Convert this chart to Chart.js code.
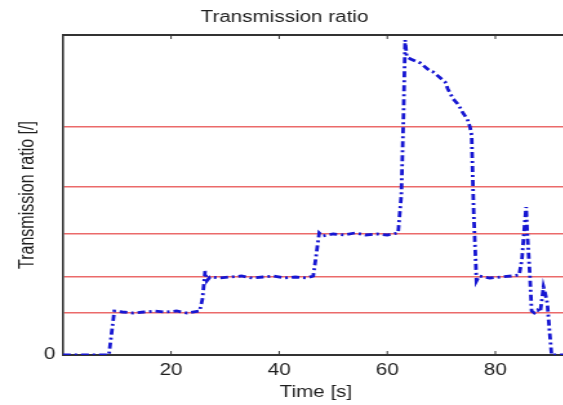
<!DOCTYPE html>
<html>
<head>
<meta charset="utf-8">
<script src="https://cdn.jsdelivr.net/npm/chart.js@4"></script>
<style>
  html, body { margin: 0; padding: 0; background: #fff; overflow: hidden; width: 563px; height: 405px; }
  /* the source figure is stretched horizontally, so the canvas is too */
  #chart { display: block; transform: scaleX(1.29); transform-origin: 0 0; }
</style>
</head>
<body>
<canvas id="chart" width="490" height="405"></canvas>
<script>
// time [s]
const times = [0, 8.5, 9.0, 9.5, 11, 13, 15, 17, 19, 21, 23, 25.3, 25.8, 26.3, 26.6, 27.2,
  29, 31, 33, 35, 37, 39, 41, 43, 45, 46.3, 46.8, 47.4, 48, 50, 52, 54, 56, 58, 60, 62,
  62.6, 63.0, 63.3, 63.6, 64.3, 66.1, 67.9, 68.5, 70.7, 71.2, 72.2, 73.2, 74, 74.8, 75.3,
  75.6, 76.0, 76.5, 77, 79, 81, 83, 84.4, 84.9, 85.4, 85.7, 85.9, 86.4, 86.7, 87.2, 87.8,
  88.3, 88.9, 89.2, 89.6, 90.0, 90.4, 91, 93.6];
// transmission ratio
const ratio = [0, 0, 0.22, 0.44, 0.43, 0.42, 0.43, 0.44, 0.43, 0.44, 0.42, 0.44, 0.56, 0.84, 0.74, 0.78,
  0.77, 0.78, 0.79, 0.77, 0.78, 0.79, 0.77, 0.78, 0.77, 0.79, 0.98, 1.22, 1.19, 1.21, 1.20, 1.22, 1.20, 1.21, 1.20, 1.22,
  1.6, 2.4, 3.15, 2.98, 2.96, 2.92, 2.84, 2.83, 2.73, 2.66, 2.56, 2.5, 2.42, 2.36, 2.28,
  2.2, 1.4, 0.74, 0.79, 0.77, 0.78, 0.79, 0.80, 0.95, 1.3, 1.48, 1.22, 0.78, 0.44, 0.42, 0.45,
  0.43, 0.68, 0.62, 0.52, 0.25, 0, 0, 0];
// red reference lines (gear ratios)
const gearLevels = [0.42, 0.78, 1.21, 1.68, 2.28];
const xTicks = [20, 40, 60, 80];

Chart.defaults.font.family = "'Liberation Sans', Arial, sans-serif";
Chart.defaults.font.size = 16;
Chart.defaults.color = '#1e1e1e';

// inward tick marks at top and bottom, plus the top frame line
const frame = {
  id: 'frame',
  afterDraw(chart) {
    const { ctx, chartArea: a, scales: { x } } = chart;
    ctx.save();
    ctx.strokeStyle = '#333';
    ctx.lineWidth = 2;
    ctx.beginPath();
    ctx.moveTo(a.left, a.top);
    ctx.lineTo(a.right, a.top);
    ctx.stroke();
    ctx.lineWidth = 1;
    xTicks.forEach(t => {
      const px = x.getPixelForValue(t);
      ctx.beginPath();
      ctx.moveTo(px, a.bottom);
      ctx.lineTo(px, a.bottom - 4);
      ctx.moveTo(px, a.top);
      ctx.lineTo(px, a.top + 4);
      ctx.stroke();
    });
    ctx.restore();
  }
};

new Chart(document.getElementById('chart'), {
  type: 'line',
  data: {
    datasets: [{
      data: times.map((t, i) => ({ x: t, y: ratio[i] })),
      borderColor: '#1616d2',
      borderWidth: 2.8,
      borderDash: [6, 3, 2, 3],
      pointRadius: 0,
      tension: 0,
      fill: false
    }]
  },
  options: {
    responsive: false,
    animation: false,
    layout: { padding: { left: 0, right: 49, top: 0, bottom: 0 } },
    plugins: {
      legend: { display: false },
      tooltip: { enabled: false },
      title: {
        display: true,
        text: 'Transmission ratio',
        font: { size: 16, weight: 'normal' },
        color: '#1e1e1e',
        padding: { top: 8, bottom: 7.8 }
      }
    },
    scales: {
      x: {
        type: 'linear',
        min: 0,
        max: 93.6,
        grid: { display: false, drawTicks: false },
        border: { display: true, color: '#333', width: 2 },
        ticks: {
          stepSize: 20,
          includeBounds: false,
          maxRotation: 0,
          autoSkip: false,
          padding: 6,
          callback: v => (v === 0 ? '' : v)
        },
        title: { display: true, text: 'Time [s]', padding: { top: 0, bottom: 2.4 } },
        afterFit: s => { s.height = 50; }
      },
      y: {
        min: 0,
        max: 3.2,
        afterBuildTicks: s => { s.ticks = [0, ...gearLevels].map(v => ({ value: v })); },
        grid: {
          drawTicks: false,
          lineWidth: 1.5,
          color: '#eb6a6a'
        },
        border: { display: true, color: '#333', width: 1.6 },
        ticks: {
          padding: 6,
          callback: v => (v === 0 ? '0' : '')
        },
        title: { display: true, text: 'Transmission ratio [/]', padding: { top: 11.5, bottom: 0 } },
        afterFit: s => { s.width = 48.8; }
      }
    }
  },
  plugins: [frame]
});
</script>
</body>
</html>
